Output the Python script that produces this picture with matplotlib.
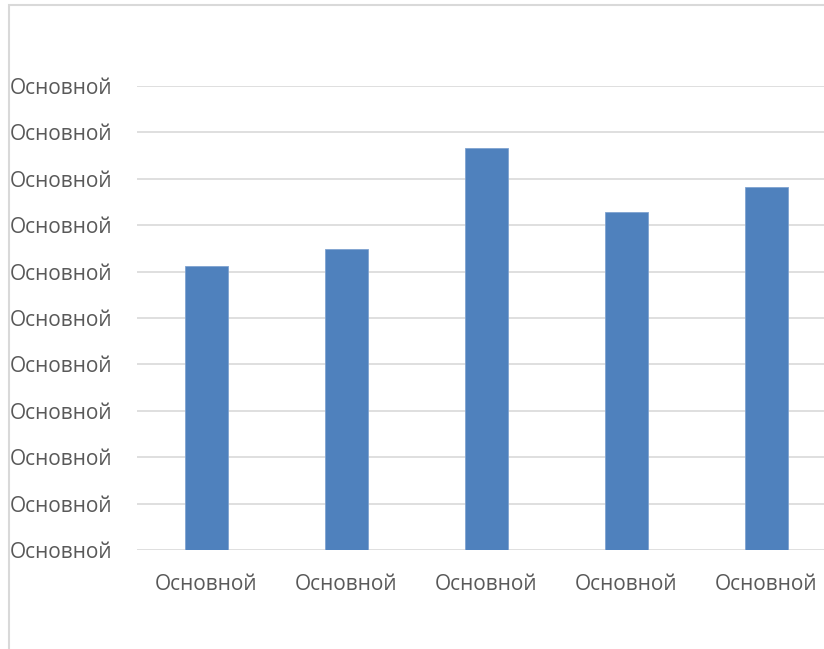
import numpy as np
import matplotlib
matplotlib.use("Agg")
import matplotlib.pyplot as plt
from matplotlib.patches import Rectangle

categories = ["Основной", "Основной", "Основной", "Основной", "Основной"]
values = [6.12, 6.49, 8.67, 7.29, 7.82]
y_ticks = list(range(11))
y_labels = ["Основной"] * 11

plt.rcParams['font.family'] = ['Open Sans', 'DejaVu Sans']

W, H = 824, 649
fig = plt.figure(figsize=(W / 100, H / 100), dpi=100)

# chart area border (runs off the right/bottom edge like the source)
fig.patches.append(Rectangle((8.5 / W, -0.1), 1.2, 1 - 5.5 / H + 0.1,
                             transform=fig.transFigure, fill=False,
                             edgecolor='#d9d9d9', linewidth=1.5))

left, right = 136.5 / W, 836.5 / W
bottom, top = (H - 550) / H, (H - 86) / H
ax = fig.add_axes([left, bottom, right - left, top - bottom])

x = np.arange(len(categories))
ax.bar(x, values, width=0.314, color='#4f81bd', edgecolor='#7fa3d0', linewidth=0.6, zorder=3)

ax.set_xlim(-0.5, len(categories) - 0.5)
ax.set_ylim(0, 10)
ax.set_yticks(y_ticks)
ax.set_yticklabels(y_labels)
ax.set_xticks(x)
ax.set_xticklabels(categories)

ax.grid(axis='y', color='#d9d9d9', linewidth=1.2, zorder=0)
for s in ax.spines.values():
    s.set_visible(False)
ax.tick_params(length=0, colors='#595959', labelsize=15)
ax.tick_params(axis='x', pad=17)
for lab in ax.get_yticklabels():
    lab.set_horizontalalignment('left')
ax.tick_params(axis='y', pad=(136.5 - 10) * 0.72)

fig.savefig("out.png", dpi=100)
